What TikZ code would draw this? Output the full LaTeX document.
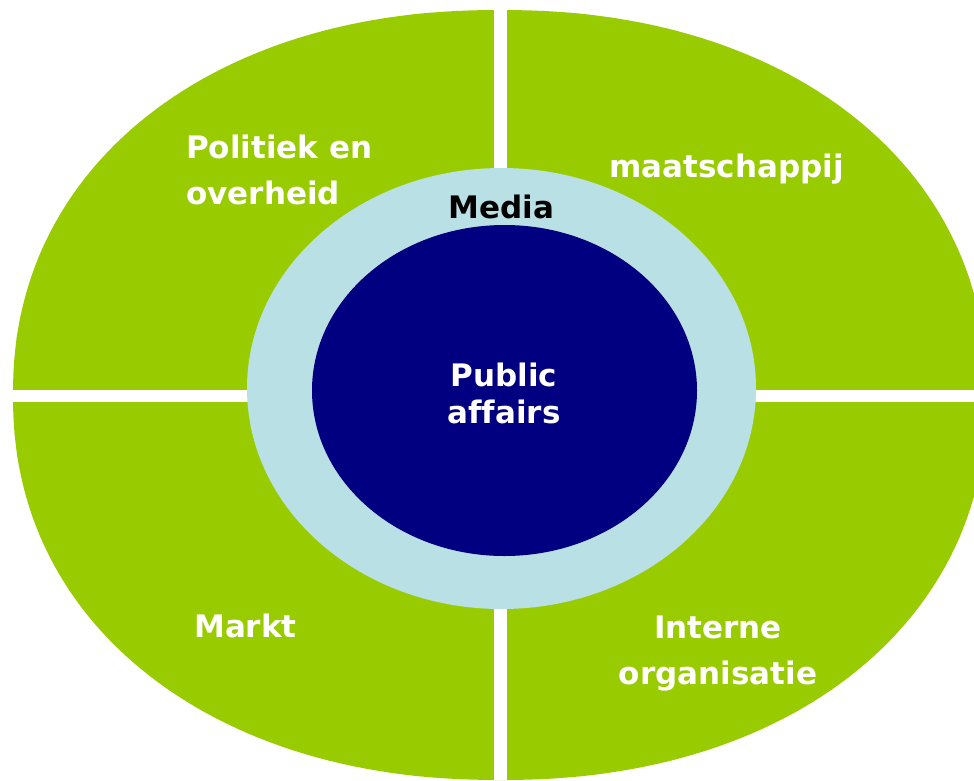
\documentclass[tikz,border=0pt]{standalone}
\usepackage{fontspec}
\setmainfont[Ligatures={NoCommon}]{DejaVu Sans}
\usepackage{xcolor}

\definecolor{leafgreen}{HTML}{99CC00}
\definecolor{mediablue}{RGB}{185,224,229}
\definecolor{panavy}{HTML}{000080}

\tikzset{
  fieldtext/.style={font=\bfseries\fontsize{31}{46}\selectfont, text=white, inner sep=0pt},
  coretext/.style={fieldtext, font=\bfseries\fontsize{31}{37}\selectfont},
  mediatext/.style={fieldtext, text=black}
}

\begin{document}
\begin{tikzpicture}[x=1pt, y=-1pt] % 1 unit = 1 pixel of the grid
    \useasboundingbox (0,0) rectangle (974,780);
    \clip (0,0) rectangle (974,780);

    % Outer ring split in four fields (slightly squared ellipse)
    \fill[leafgreen] plot[domain=0.5:360.5, samples=240, variable=\t]
        ({500+487*sign(cos(\t))*abs(cos(\t))^0.93}, {395+385*sign(sin(\t))*abs(sin(\t))^0.93}) -- cycle;
    \fill[white] (494,0) rectangle (507,780);
    \fill[white] (0,389.5) rectangle (974,402);

    % Media ring and centre
    \fill[mediablue] (501.5,388.5) ellipse [x radius=254.5pt, y radius=220.5pt];
    \fill[panavy] (504.5,390.5) ellipse [x radius=192.5pt, y radius=165.5pt];

    % Texts
    \node[fieldtext, anchor=west, align=left] (politiek) at (186,170) {Politiek en\\overheid};
    \node[fieldtext, anchor=base west] (maatschappij) at (609,177) {maatschappij};
    \node[fieldtext, anchor=base west] (markt) at (194,637) {Markt};
    \node[fieldtext, align=center] (intern) at (718,654) {Interne\\organisatie};
    \node[mediatext, anchor=base] (media) at (501.5,218) {Media};
    \node[coretext, align=center] (pa) at (504,393) {Public\\affairs};

\end{tikzpicture}
\end{document}
